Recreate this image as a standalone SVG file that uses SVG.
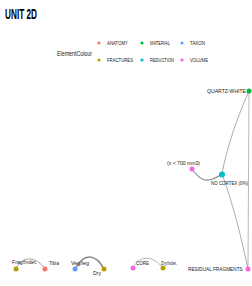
<svg xmlns="http://www.w3.org/2000/svg" width="252" height="286" viewBox="0 0 252 286">
<style>
text{font-family:"Liberation Sans",Arial,sans-serif;fill:#222;}
.t{font-size:14px;font-weight:bold;fill:#000;}
.lg{font-size:7px;}
.li{font-size:5.5px;}
.nl{font-size:6px;}
.e{fill:none;stroke:#888;stroke-linecap:round;}
.an{fill:#F8766D}.fr{fill:#B79F00}.ma{fill:#00BA38}.re{fill:#00BFC4}.ta{fill:#619CFF}.vo{fill:#F564E3}
</style>
<rect width="252" height="286" fill="#fff"/>
<text class="t" x="5" y="19" textLength="32" lengthAdjust="spacingAndGlyphs">UNIT 2D</text>
<g id="legend">
<text class="lg" x="57" y="55.5" textLength="35" lengthAdjust="spacingAndGlyphs">ElementColour</text>
<circle class="an" cx="99" cy="43" r="1.6"/><text class="li" x="107" y="45" textLength="21" lengthAdjust="spacingAndGlyphs">ANATOMY</text>
<circle class="ma" cx="142" cy="43" r="1.6"/><text class="li" x="150" y="45" textLength="20" lengthAdjust="spacingAndGlyphs">MATERIAL</text>
<circle class="ta" cx="182" cy="43" r="1.6"/><text class="li" x="190" y="45" textLength="15" lengthAdjust="spacingAndGlyphs">TAXON</text>
<circle class="fr" cx="99" cy="60" r="1.6"/><text class="li" x="107" y="62" textLength="26" lengthAdjust="spacingAndGlyphs">FRACTURES</text>
<circle class="re" cx="142" cy="60" r="1.6"/><text class="li" x="150" y="62" textLength="24" lengthAdjust="spacingAndGlyphs">REDUCTION</text>
<circle class="vo" cx="182" cy="60" r="1.6"/><text class="li" x="190" y="62" textLength="18" lengthAdjust="spacingAndGlyphs">VOLUME</text>
</g>
<g id="connectors">
<path class="e" d="M16,269 C22,255 36,256 45,269" stroke-width="0.8" stroke="#777"/>
<path class="e" d="M75,269 C84,252 96,254 104,269" stroke-width="1.6" stroke="#555"/>
<path class="e" d="M133,268 C140,254 154,256 163,268" stroke-width="0.6" stroke="#999"/>
<path class="e" d="M249,91 L248,269" stroke-width="0.6" stroke="#bbb"/>
<path class="e" d="M249,91 C238,115 226,150 222,174" stroke-width="0.7" stroke="#999"/>
<path class="e" d="M192,169 C200,180 206,185 222,174" stroke-width="1.1" stroke="#666"/>
<path class="e" d="M222,174 C232,200 242,240 248,269" stroke-width="0.7" stroke="#888"/>
</g>
<g id="node-quartz-white"><circle class="ma" cx="249" cy="91" r="2.5"/><text class="nl" x="246" y="93" text-anchor="end" textLength="39" lengthAdjust="spacingAndGlyphs">QUARTZ-WHITE</text></g>
<g id="node-volume-lt700"><circle class="vo" cx="192" cy="169" r="2.5"/><text class="nl" x="167" y="165" textLength="33" lengthAdjust="spacingAndGlyphs">(x &lt; 700 mm3)</text></g>
<g id="node-no-cortex"><circle class="re" cx="222" cy="174.5" r="3"/><text class="nl" transform="translate(211,185) scale(0.742,1)" x="0" y="0">NO CORTEX (0%)</text></g>
<g id="node-residual-fragments"><circle class="vo" cx="248" cy="269" r="2.5"/><text class="nl" transform="translate(188,271) scale(0.794,1)" x="0" y="0">RESIDUAL FRAGMENTS</text></g>
<g id="node-core"><circle class="vo" cx="133" cy="268" r="2.5"/><text class="nl" x="136" y="265" textLength="13" lengthAdjust="spacingAndGlyphs">CORE</text></g>
<g id="node-dry-indet"><circle class="fr" cx="163" cy="268" r="2.5"/><text class="nl" x="161" y="265" textLength="16" lengthAdjust="spacingAndGlyphs">Dry/Indet.</text></g>
<g id="node-frag-indet"><circle class="fr" cx="16" cy="269" r="2.5"/><text class="nl" x="12" y="264" textLength="25" lengthAdjust="spacingAndGlyphs">Frag/Indet.</text></g>
<g id="node-tibia"><circle class="an" cx="45" cy="269" r="2.5"/><text class="nl" x="49" y="265" textLength="10" lengthAdjust="spacingAndGlyphs">Tibia</text></g>
<g id="node-veg-leg"><circle class="ta" cx="75" cy="269" r="2.5"/><text class="nl" x="71" y="265" textLength="18" lengthAdjust="spacingAndGlyphs">Veg/leg</text></g>
<g id="node-dry"><circle class="fr" cx="104" cy="269" r="2.5"/><text class="nl" x="93" y="275" textLength="8" lengthAdjust="spacingAndGlyphs">Dry</text></g>
</svg>
